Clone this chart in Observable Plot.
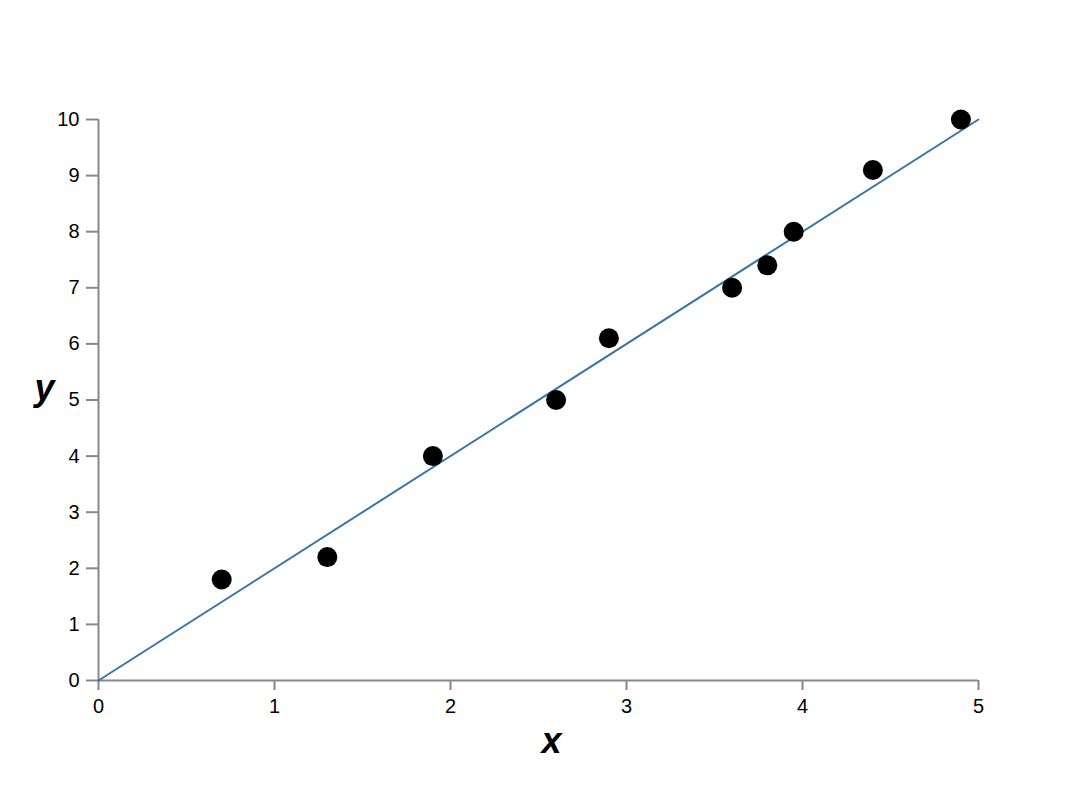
<!DOCTYPE html>
<html>
<head>
<meta charset="utf-8">
<script src="https://cdn.jsdelivr.net/npm/d3@7"></script>
<script src="https://cdn.jsdelivr.net/npm/@observablehq/plot@0.6"></script>
<style>
  html, body { margin: 0; padding: 0; background: #fff; }
  #chart svg { display: block; }
</style>
</head>
<body>
<div id="chart"></div>
<script>
const xValues = [0.7, 1.3, 1.9, 2.6, 2.9, 3.6, 3.8, 3.95, 4.4, 4.9];
const yValues = [1.8, 2.2, 4.0, 5.0, 6.1, 7.0, 7.4, 8.0, 9.1, 10.0];
const fitX = [0, 5];
const fitY = [0, 10];
const xTicks = [0, 1, 2, 3, 4, 5];
const yTicks = [0, 1, 2, 3, 4, 5, 6, 7, 8, 9, 10];
const xLabel = "x";
const yLabel = "y";

const points = xValues.map((x, i) => ({x, y: yValues[i]}));
const fit = fitX.map((x, i) => ({x, y: fitY[i]}));

const chart = Plot.plot({
  width: 1086,
  height: 804,
  marginLeft: 98,
  marginRight: 108,
  marginTop: 119,
  marginBottom: 124,
  style: {fontFamily: "'Liberation Sans', Arial, Helvetica, sans-serif", fontSize: "20px", background: "#fff"},
  x: {domain: [0, 5]},
  y: {domain: [0, 10]},
  marks: [
    Plot.ruleY([0], {stroke: "#888", strokeWidth: 2}),
    Plot.ruleX([0], {stroke: "#888", strokeWidth: 2}),
    Plot.axisX(xTicks, {tickSize: 10, tickPadding: 8, stroke: "#888", strokeWidth: 2, fill: "black", fontSize: 20, tickFormat: d => String(d), label: null}),
    Plot.axisY(yTicks, {tickSize: 12, tickPadding: 7, stroke: "#888", strokeWidth: 2, fill: "black", fontSize: 20, tickFormat: d => String(d), label: null}),
    Plot.line(fit, {x: "x", y: "y", stroke: "#3a75a8", strokeWidth: 2}),
    Plot.dot(points, {x: "x", y: "y", r: 10, fill: "black", stroke: "none"}),
    Plot.text([xLabel], {frameAnchor: "bottom", dx: 13, dy: 72, lineAnchor: "bottom", text: d => d, fontSize: 36, fontWeight: "bold", fontStyle: "italic", fill: "black"}),
    Plot.text([yLabel], {frameAnchor: "left", dx: -64, dy: 0, lineAnchor: "bottom", text: d => d, fontSize: 36, fontWeight: "bold", fontStyle: "italic", fill: "black"})
  ]
});
document.getElementById("chart").appendChild(chart);
</script>
</body>
</html>
